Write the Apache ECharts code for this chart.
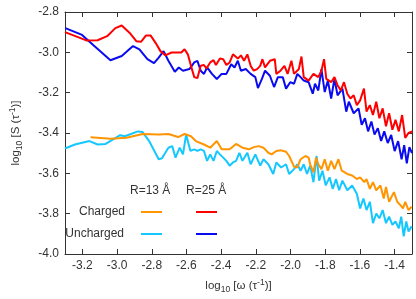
<!DOCTYPE html>
<html><head><meta charset="utf-8">
<script src="https://cdn.jsdelivr.net/npm/echarts@6/dist/echarts.min.js"></script>
<style>html,body{margin:0;padding:0;background:#fff}#c{width:416px;height:299px}</style>
</head><body><div id="c"></div>
<script>
// tick labels
const xTicks = [-3.2,-3.0,-2.8,-2.6,-2.4,-2.2,-2.0,-1.8,-1.6,-1.4];
const yTicks = [-4.0,-3.8,-3.6,-3.4,-3.2,-3.0,-2.8];
// series [log10 w, log10 S]
const chargedR25 = [[-3.30,-2.90],[-3.177,-2.941],[-3.112,-2.940],[-3.057,-2.920],[-3.010,-2.880],[-2.973,-2.867],[-2.927,-2.904],[-2.889,-2.945],[-2.862,-2.948],[-2.834,-2.917],[-2.806,-2.917],[-2.778,-2.953],[-2.750,-2.994],[-2.722,-3.015],[-2.686,-3.001],[-2.630,-3.001],[-2.611,-2.985],[-2.592,-3.010],[-2.574,-3.067],[-2.555,-3.123],[-2.537,-3.128],[-2.518,-3.067],[-2.499,-3.063],[-2.485,-3.08],[-2.463,-3.050],[-2.444,-3.039],[-2.43,-3.063],[-2.407,-3.031],[-2.388,-3.034],[-2.370,-3.063],[-2.351,-3.05],[-2.332,-3.010],[-2.304,-3.031],[-2.286,-3.015],[-2.268,-3.042],[-2.249,-3.010],[-2.230,-3.067],[-2.212,-3.091],[-2.193,-3.083],[-2.175,-3.067],[-2.162,-3.034],[-2.147,-3.075],[-2.119,-3.042],[-2.091,-3.034],[-2.082,-3.107],[-2.058,-3.091],[-2.035,-3.067],[-2.017,-3.107],[-1.995,-3.042],[-1.980,-3.107],[-1.952,-3.083],[-1.937,-3.021],[-1.924,-3.123],[-1.896,-3.140],[-1.868,-3.107],[-1.840,-3.123],[-1.822,-3.091],[-1.807,-3.034],[-1.794,-3.132],[-1.766,-3.148],[-1.747,-3.123],[-1.729,-3.164],[-1.710,-3.189],[-1.692,-3.148],[-1.673,-3.205],[-1.655,-3.229],[-1.636,-3.213],[-1.618,-3.262],[-1.599,-3.238],[-1.577,-3.180],[-1.562,-3.294],[-1.543,-3.262],[-1.525,-3.311],[-1.506,-3.245],[-1.488,-3.327],[-1.469,-3.278],[-1.450,-3.367],[-1.432,-3.302],[-1.413,-3.384],[-1.395,-3.335],[-1.376,-3.392],[-1.357,-3.311],[-1.339,-3.424],[-1.320,-3.400],[-1.298,-3.392]];
const unchargedR25 = [[-3.298,-2.88],[-3.205,-2.912],[-3.131,-2.969],[-3.038,-3.039],[-2.973,-3.018],[-2.908,-2.969],[-2.871,-2.985],[-2.825,-3.034],[-2.787,-3.054],[-2.760,-3.026],[-2.732,-2.994],[-2.704,-3.042],[-2.667,-3.096],[-2.644,-3.075],[-2.620,-3.091],[-2.583,-3.083],[-2.555,-3.050],[-2.537,-3.042],[-2.518,-3.091],[-2.499,-3.107],[-2.481,-3.075],[-2.453,-3.107],[-2.425,-3.132],[-2.397,-3.107],[-2.370,-3.107],[-2.342,-3.059],[-2.323,-3.075],[-2.304,-3.042],[-2.286,-3.091],[-2.258,-3.083],[-2.230,-3.107],[-2.203,-3.123],[-2.188,-3.177],[-2.165,-3.132],[-2.147,-3.091],[-2.119,-3.116],[-2.095,-3.172],[-2.073,-3.123],[-2.045,-3.123],[-2.026,-3.180],[-2.002,-3.148],[-1.980,-3.156],[-1.961,-3.107],[-1.942,-3.123],[-1.924,-3.140],[-1.896,-3.148],[-1.872,-3.205],[-1.859,-3.156],[-1.840,-3.189],[-1.822,-3.083],[-1.803,-3.197],[-1.785,-3.140],[-1.766,-3.229],[-1.747,-3.132],[-1.729,-3.213],[-1.701,-3.180],[-1.679,-3.294],[-1.664,-3.245],[-1.636,-3.302],[-1.608,-3.278],[-1.590,-3.359],[-1.571,-3.327],[-1.553,-3.392],[-1.534,-3.343],[-1.516,-3.408],[-1.497,-3.376],[-1.478,-3.440],[-1.460,-3.392],[-1.44,-3.45],[-1.42,-3.41],[-1.40,-3.49],[-1.38,-3.44],[-1.36,-3.53],[-1.345,-3.46],[-1.33,-3.55],[-1.315,-3.47],[-1.30,-3.50]];
const chargedR13 = [[-3.153,-3.421],[-3.038,-3.429],[-2.945,-3.424],[-2.853,-3.405],[-2.760,-3.408],[-2.704,-3.405],[-2.648,-3.420],[-2.611,-3.405],[-2.574,-3.416],[-2.546,-3.440],[-2.499,-3.457],[-2.463,-3.473],[-2.425,-3.440],[-2.397,-3.481],[-2.351,-3.481],[-2.314,-3.454],[-2.277,-3.473],[-2.240,-3.481],[-2.212,-3.470],[-2.184,-3.465],[-2.156,-3.473],[-2.128,-3.498],[-2.109,-3.506],[-2.082,-3.489],[-2.054,-3.486],[-2.026,-3.493],[-2.008,-3.514],[-1.980,-3.567],[-1.961,-3.571],[-1.942,-3.530],[-1.914,-3.514],[-1.896,-3.522],[-1.887,-3.555],[-1.868,-3.595],[-1.853,-3.522],[-1.840,-3.555],[-1.822,-3.579],[-1.803,-3.530],[-1.785,-3.587],[-1.766,-3.538],[-1.747,-3.579],[-1.724,-3.530],[-1.705,-3.587],[-1.673,-3.603],[-1.645,-3.611],[-1.618,-3.628],[-1.599,-3.620],[-1.575,-3.644],[-1.562,-3.628],[-1.543,-3.677],[-1.525,-3.644],[-1.506,-3.684],[-1.482,-3.660],[-1.463,-3.725],[-1.450,-3.668],[-1.432,-3.741],[-1.404,-3.693],[-1.385,-3.741],[-1.367,-3.758],[-1.352,-3.774],[-1.339,-3.741],[-1.320,-3.782],[-1.302,-3.766]];
const unchargedR13 = [[-3.30,-3.477],[-3.243,-3.457],[-3.159,-3.440],[-3.112,-3.457],[-3.066,-3.454],[-2.982,-3.411],[-2.955,-3.416],[-2.880,-3.392],[-2.853,-3.395],[-2.815,-3.440],[-2.760,-3.530],[-2.741,-3.525],[-2.704,-3.473],[-2.682,-3.465],[-2.663,-3.522],[-2.639,-3.473],[-2.620,-3.506],[-2.602,-3.408],[-2.577,-3.489],[-2.555,-3.481],[-2.537,-3.489],[-2.518,-3.481],[-2.499,-3.489],[-2.481,-3.538],[-2.463,-3.506],[-2.444,-3.538],[-2.425,-3.489],[-2.407,-3.506],[-2.388,-3.522],[-2.370,-3.538],[-2.351,-3.562],[-2.332,-3.546],[-2.314,-3.538],[-2.295,-3.498],[-2.277,-3.538],[-2.249,-3.498],[-2.230,-3.555],[-2.203,-3.506],[-2.175,-3.562],[-2.156,-3.530],[-2.128,-3.555],[-2.100,-3.603],[-2.082,-3.546],[-2.054,-3.571],[-2.026,-3.555],[-2.008,-3.603],[-1.980,-3.579],[-1.961,-3.555],[-1.942,-3.587],[-1.924,-3.555],[-1.905,-3.603],[-1.887,-3.562],[-1.868,-3.644],[-1.850,-3.514],[-1.835,-3.636],[-1.816,-3.587],[-1.797,-3.660],[-1.775,-3.620],[-1.757,-3.677],[-1.738,-3.628],[-1.720,-3.684],[-1.701,-3.636],[-1.673,-3.684],[-1.645,-3.660],[-1.618,-3.701],[-1.599,-3.774],[-1.580,-3.725],[-1.562,-3.782],[-1.543,-3.741],[-1.525,-3.847],[-1.506,-3.799],[-1.488,-3.823],[-1.469,-3.782],[-1.450,-3.847],[-1.432,-3.815],[-1.413,-3.855],[-1.395,-3.839],[-1.376,-3.872],[-1.362,-3.815],[-1.348,-3.912],[-1.333,-3.839],[-1.320,-3.888],[-1.302,-3.863]];

const C = {orange:'#ff9500', red:'#ff0000', cyan:'#14c8ff', blue:'#0a0af0'};
const FONT = '"Liberation Sans", Arial, sans-serif';
const TXT = '#333';
const fmt = v => v.toFixed(1);
const rich = {
  t:{fontSize:11.5, fontFamily:FONT, color:TXT, lineHeight:16, verticalAlign:'middle'},
  s:{fontSize:8.5, fontFamily:FONT, color:TXT, lineHeight:9, verticalAlign:'bottom'},
  p:{fontSize:8.5, fontFamily:FONT, color:TXT, lineHeight:9, verticalAlign:'top'}
};
const axLine = {show:true, onZero:false, lineStyle:{color:'#333', width:1}};
function xa(pos, main){
  return {type:'value', position:pos, min:-3.3, max:-1.3,
    axisLine:axLine,
    axisTick:{show:true, inside:true, length:5, customValues:xTicks, lineStyle:{color:'#333'}},
    axisLabel:{show:main, customValues:xTicks, formatter:fmt, fontSize:12, fontFamily:FONT, color:TXT, margin:6},
    splitLine:{show:false},
    name: main ? '{t|log}{s|10}{t| [ω (τ}{p|-1}{t|)]}' : '',
    nameLocation:'middle', nameGap:24, nameTextStyle:{rich}
  };
}
function ya(pos, main){
  return {type:'value', position:pos, min:-4.0, max:-2.8,
    axisLine:axLine,
    axisTick:{show:true, inside:true, length:5, customValues:yTicks, lineStyle:{color:'#333'}},
    axisLabel:{show:main, customValues:yTicks, formatter:fmt, fontSize:12, fontFamily:FONT, color:TXT, margin:6},
    splitLine:{show:false},
    name: main ? '{t|log}{s|10}{t| [S (τ}{p|-1}{t|)]}' : '',
    nameLocation:'middle', nameRotate:90, nameGap:41, nameTextStyle:{rich}
  };
}
function ser(data, color){
  return {type:'line', data, xAxisIndex:0, yAxisIndex:0, showSymbol:false, symbol:'none',
    lineStyle:{color, width:2}, itemStyle:{color}, animation:false};
}
const chart = echarts.init(document.getElementById('c'), null, {renderer:'canvas'});
const lg = (x1,y,col) => ({type:'line', shape:{x1:x1, y1:y, x2:x1+21, y2:y}, style:{stroke:col, lineWidth:2}});
const tx = (x,y,t,align) => ({type:'text', x, y, style:{text:t, fill:TXT, font:'12px '+FONT, align, verticalAlign:'middle'}});
chart.setOption({
  animation:false,
  grid:{left:53, top:12, right:4, bottom:41, containLabel:false},
  xAxis:[xa('bottom', true), xa('top', false)],
  yAxis:[ya('left', true), ya('right', false)],
  series:[ser(unchargedR13, C.cyan), ser(chargedR13, C.orange), ser(unchargedR25, C.blue), ser(chargedR25, C.red)],
  graphic:[
    tx(130,191,'R=13 Å','left'), tx(186,191,'R=25 Å','left'),
    tx(125,212,'Charged','right'), tx(124,234,'Uncharged','right'),
    lg(141,212,C.orange), lg(196,212,C.red), lg(141,234,C.cyan), lg(196,234,C.blue)
  ]
});
</script></body></html>
